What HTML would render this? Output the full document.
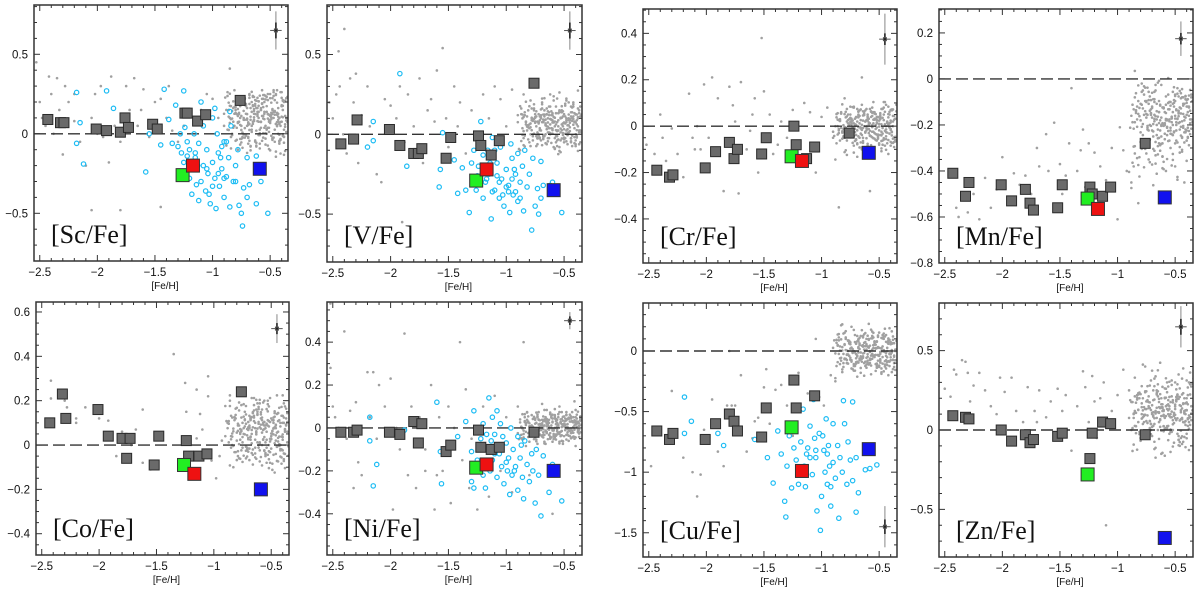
<!DOCTYPE html>
<html><head><meta charset="utf-8">
<style>
html,body{margin:0;padding:0;background:#fff;}
svg{display:block;}
text{font-family:"Liberation Sans",sans-serif;}
</style></head>
<body>
<svg id="fig" width="1200" height="591" viewBox="0 0 1200 591" xmlns="http://www.w3.org/2000/svg"></svg>
<script>
// ---- shared data ----
const gcFeH = [-2.43,-2.32,-2.29,-2.01,-1.92,-1.80,-1.76,-1.73,-1.52,-1.48,-1.24,-1.22,-1.13,-1.06,-0.76];
const specialFeH = [-1.26,-1.17,-0.59];
const specialColors = ['#22ee22','#ee1111','#1111ee'];
const xTicks = [-2.5,-2,-1.5,-1,-0.5];
const xTickLabels = ['\u22122.5','\u22122','\u22121.5','\u22121','\u22120.5'];

// GC values per element (null = not measured)
const scGC = [0.09,0.07,0.07,0.03,0.02,0.01,0.10,0.04,0.06,0.03,0.13,0.13,0.08,0.12,0.21];
const vGC  = [-0.06,-0.03,0.09,0.03,-0.07,-0.12,-0.12,-0.09,-0.15,-0.02,-0.01,-0.07,-0.13,-0.04,0.32];
const crGC = [-0.19,-0.22,-0.21,-0.18,-0.11,-0.07,-0.14,-0.10,-0.12,-0.05,0.0,-0.08,-0.14,-0.09,-0.03];
const mnGC = [-0.41,-0.51,-0.45,-0.46,-0.53,-0.48,-0.54,-0.57,-0.56,-0.46,-0.47,-0.50,-0.51,-0.47,-0.28];
const coGC = [0.10,0.23,0.12,0.16,0.04,0.03,-0.06,0.03,-0.09,0.04,0.02,-0.05,-0.05,-0.04,0.24];
const niGC = [-0.02,-0.02,-0.01,-0.02,-0.03,0.03,-0.07,0.02,-0.11,-0.08,-0.01,-0.09,-0.10,-0.09,-0.02];
const cuGC = [-0.66,-0.73,-0.68,-0.73,-0.60,-0.52,-0.58,-0.66,-0.71,-0.47,-0.24,-0.47,null,-0.37,null];
const znGC = [0.09,0.08,0.07,0.0,-0.07,-0.03,-0.08,-0.06,-0.04,-0.02,-0.18,-0.02,0.05,0.04,-0.03];

// special objects (green, red, blue)
const scSpec = [-0.26,-0.20,-0.22];
const vSpec  = [-0.29,-0.22,-0.35];
const crSpec = [-0.13,-0.15,-0.115];
const mnSpec = [-0.52,-0.565,-0.515];
const coSpec = [-0.09,-0.13,-0.20];
const niSpec = [-0.185,-0.17,-0.20];
const cuSpec = [-0.63,-0.99,-0.81];
const znSpec = [-0.28,null,-0.68];

// error-bar cross centre y per element
const errY = {sc:0.65,v:0.65,cr:0.375,mn:0.175,co:0.525,ni:0.50,cu:-1.45,zn:0.65};
const errHalf = {sc:[0.05,0.05,0.12],v:[0.05,0.05,0.12],cr:[0.05,0.025,0.11],mn:[0.05,0.025,0.075],co:[0.05,0.025,0.065],ni:[0.05,0.02,0.04],cu:[0.05,0.06,0.17],zn:[0.05,0.05,0.13]};

// dense disc cloud (shared [Fe/H] positions of field disc stars; y values per element)
const discX = [-0.88,-0.85,-0.83,-0.8,-0.78,-0.76,-0.74,-0.72,-0.7,-0.68,-0.66,-0.64,-0.62,-0.6,-0.58,-0.56,-0.54,-0.52,-0.5,-0.48,-0.46,-0.44,-0.42,-0.4,-0.38,-0.37,-0.86,-0.81,-0.77,-0.73,-0.69,-0.65,-0.61,-0.57,-0.53,-0.49,-0.45,-0.41,-0.39,-0.63,-0.55,-0.47,-0.43,-0.59,-0.51,-0.67,-0.71,-0.75,-0.79,-0.84,-0.36,-0.38,-0.42,-0.46,-0.5,-0.54,-0.58,-0.62,-0.66,-0.7];
const scDisc = [0.15,0.05,0.2,0.1,-0.02,0.18,0.08,0.22,0.0,0.12,0.25,0.05,0.15,-0.05,0.2,0.1,0.0,0.24,0.12,-0.08,0.18,0.05,0.22,-0.02,0.1,0.2,-0.05,0.12,0.25,-0.03,0.15,-0.08,0.2,0.05,0.15,0.1,0.0,0.15,-0.1,0.1,-0.02,0.22,-0.12,0.25,0.05,0.08,0.02,0.1,0.15,0.22,0.05,0.25,0.08,0.15,-0.05,0.12,0.1,0.18,-0.02,0.06];
const vDisc = [0.1,0.15,0.0,0.08,0.2,0.05,0.12,-0.05,0.1,0.18,0.02,0.08,-0.02,0.12,0.05,0.0,0.1,-0.08,0.05,0.15,-0.02,0.08,0.0,0.12,-0.05,0.05,0.2,0.1,-0.05,0.15,0.05,0.25,0.0,0.1,-0.1,0.02,0.08,-0.05,0.1,0.15,0.05,0.0,0.12,-0.03,0.06,0.1,0.0,0.12,0.08,0.02,-0.08,0.15,-0.02,0.1,0.2,-0.05,0.06,0.0,0.1,0.15];
const crDisc = [0.0,-0.05,0.05,-0.03,0.02,-0.1,0.0,0.04,-0.06,0.03,-0.02,0.05,-0.04,0.0,0.06,-0.08,0.02,-0.03,0.04,-0.05,0.0,0.05,-0.02,0.03,-0.06,0.0,-0.12,0.08,-0.08,0.06,-0.04,0.02,-0.07,0.04,0.0,-0.03,0.06,-0.05,0.02,0.03,-0.02,0.08,-0.06,0.05,-0.01,-0.05,0.02,0.05,-0.02,0.08,-0.03,0.04,0.01,-0.04,0.05,0.0,-0.06,0.07,0.02,-0.09];
const mnDisc = [-0.38,-0.34,-0.3,-0.35,-0.25,-0.22,-0.28,-0.18,-0.24,-0.2,-0.15,-0.22,-0.12,-0.18,-0.1,-0.15,-0.08,-0.2,-0.12,-0.05,-0.15,-0.1,-0.02,-0.14,-0.08,-0.12,-0.45,-0.32,-0.28,-0.3,-0.18,-0.25,-0.2,-0.12,-0.16,-0.08,-0.12,-0.18,-0.05,-0.14,-0.22,-0.2,-0.06,-0.1,-0.14,-0.28,-0.2,-0.36,-0.4,-0.27,-0.1,-0.2,-0.16,-0.04,-0.22,-0.08,-0.18,-0.12,-0.16,-0.24];
const coDisc = [0.2,0.12,0.05,0.15,0.08,0.18,0.0,0.1,0.2,0.05,0.14,-0.02,0.1,0.16,-0.05,0.08,0.0,0.12,-0.08,0.05,-0.02,0.1,-0.05,0.0,0.06,-0.04,0.1,0.02,0.12,0.06,0.0,0.15,0.08,-0.03,0.1,0.04,-0.1,0.02,-0.06,0.18,0.05,-0.06,0.08,0.12,-0.02,0.1,0.14,0.08,0.16,0.2,-0.08,0.0,0.04,0.1,-0.04,0.06,0.0,0.1,0.06,0.12];
const niDisc = [0.0,0.03,-0.02,0.05,-0.04,0.02,0.0,-0.03,0.04,-0.01,0.03,-0.05,0.02,0.0,0.05,-0.02,0.03,-0.04,0.01,0.04,-0.03,0.02,0.0,0.05,-0.02,0.03,0.05,-0.06,0.02,-0.02,0.06,-0.04,0.03,-0.01,0.04,-0.05,0.02,-0.02,0.06,0.0,-0.03,0.04,0.01,-0.02,0.05,0.02,-0.05,0.03,0.0,-0.03,0.1,-0.06,0.02,0.06,-0.01,0.03,-0.04,0.05,-0.02,0.01];
const cuDisc = [0.05,-0.1,0.0,-0.15,0.08,-0.05,0.1,-0.12,0.02,-0.08,0.12,-0.02,0.06,-0.1,0.15,-0.05,0.0,0.1,-0.08,0.05,-0.12,0.02,0.1,-0.06,0.0,-0.15,-0.2,0.12,-0.04,0.08,-0.1,0.04,-0.18,0.06,-0.02,0.14,-0.08,0.05,-0.1,-0.04,0.2,0.0,-0.06,0.08,-0.14,-0.02,0.04,-0.08,0.0,0.16,-0.05,0.08,-0.12,0.02,0.1,-0.04,0.06,-0.02,0.12,-0.1];
const znDisc = [0.1,0.2,0.05,0.15,0.25,0.0,0.12,0.3,0.08,0.18,-0.05,0.1,0.22,0.02,0.15,0.35,0.05,0.2,-0.08,0.12,0.0,0.18,0.1,-0.02,0.15,0.05,0.2,-0.1,0.3,0.08,0.15,-0.15,0.25,0.1,0.0,0.12,0.22,-0.05,0.08,0.4,0.18,0.28,0.02,-0.12,0.14,0.05,0.2,0.12,0.26,0.1,0.1,0.0,0.16,0.22,0.06,-0.04,0.12,0.2,0.3,0.08];

// scattered halo/thick-disc field stars: flat [x,y,...]
const scField = [-2.53,0.45,-2.5,0.2,-2.48,0.1,-2.45,0.05,-2.42,0.36,-2.4,0.25,-2.38,0.0,-2.35,0.35,-2.33,0.15,-2.3,-0.13,-2.28,0.3,-2.25,0.2,-2.2,0.08,-2.15,-0.05,-2.1,-0.2,-2.05,0.1,-2.02,0.25,-1.97,0.3,-1.95,-0.02,-1.9,-0.18,-1.88,0.36,-1.85,0.05,-1.8,-0.05,-1.75,0.3,-1.72,0.15,-1.68,0.35,-1.65,0.05,-1.6,0.28,-1.55,-0.02,-1.5,0.2,-1.45,0.22,-1.4,0.1,-1.35,0.02,-1.3,-0.05,-1.25,0.05,-1.2,0.12,-1.15,0.1,-1.1,0.15,-1.05,0.25,-1.0,0.22,-0.95,0.1,-0.9,0.05,-0.85,0.41,-1.8,-0.48,-1.45,-0.46,-2.05,-0.48,-2.2,0.25,-2.0,0.0,-1.62,0.15,-1.38,0.3];
const vField = [-2.53,0.2,-2.5,0.1,-2.47,0.25,-2.44,0.3,-2.41,0.0,-2.4,0.66,-2.38,-0.12,-2.35,0.35,-2.32,0.2,-2.28,-0.18,-2.25,0.12,-2.2,0.3,-2.18,0.05,-2.12,-0.25,-2.08,-0.3,-2.05,0.22,-2.0,0.18,-1.95,0.1,-1.92,0.3,-1.88,-0.05,-1.85,0.25,-1.8,0.05,-1.75,0.35,-1.72,-0.18,-1.68,0.15,-1.65,0.22,-1.6,0.4,-1.55,0.54,-1.52,0.1,-1.5,-0.08,-1.45,0.3,-1.42,0.05,-1.4,0.2,-1.35,-0.12,-1.3,0.15,-1.25,0.0,-1.2,0.25,-1.15,0.1,-1.1,0.3,-1.05,0.22,-1.0,0.05,-0.95,0.28,-0.9,0.12,-0.85,0.25,-2.45,0.52,-1.9,-0.55,-1.62,0.08,-2.3,0.38];
const crField = [-2.52,-0.08,-2.45,-0.12,-2.4,0.05,-2.38,-0.05,-2.35,-0.15,-2.3,-0.01,-2.25,-0.12,-2.2,-0.22,-2.15,0.14,-2.12,-0.05,-2.08,0.0,-2.05,-0.1,-2.02,0.18,-1.98,-0.05,-1.95,0.21,-1.9,0.12,-1.85,-0.28,-1.8,0.17,-1.77,0.09,-1.72,-0.29,-1.7,0.19,-1.65,-0.1,-1.62,-0.02,-1.58,0.12,-1.55,-0.2,-1.52,0.38,-1.5,0.15,-1.45,0.05,-1.42,-0.12,-1.38,-0.08,-1.35,0.02,-1.3,-0.05,-1.25,0.07,-1.2,-0.08,-1.15,0.1,-1.1,0.06,-1.05,-0.2,-1.0,0.04,-0.95,0.08,-0.9,-0.05,-0.85,-0.35,-0.8,0.12,-0.65,0.21,-0.58,-0.28,-1.75,0.02,-2.1,-0.1,-1.6,0.05];
const mnField = [-2.4,-0.56,-2.38,-0.6,-2.35,-0.5,-2.3,-0.58,-2.25,-0.5,-2.2,-0.61,-2.15,-0.43,-2.1,-0.56,-2.05,-0.48,-2.0,-0.34,-1.9,-0.41,-1.85,-0.46,-1.8,-0.42,-1.75,-0.5,-1.7,-0.3,-1.68,-0.38,-1.62,-0.24,-1.6,-0.4,-1.55,-0.19,-1.5,-0.37,-1.45,-0.42,-1.42,-0.28,-1.4,-0.04,-1.35,-0.4,-1.32,-0.31,-1.28,-0.47,-1.25,-0.28,-1.2,-0.32,-1.15,-0.38,-1.1,-0.44,-1.05,-0.3,-1.0,-0.61,-0.98,-0.21,-0.95,-0.31,-0.92,-0.4,-0.88,-0.45,-0.85,0.035,-0.82,-0.54,-0.5,-0.38,-1.48,-0.5,-1.18,-0.54,-1.3,-0.22];
const coField = [-2.42,0.29,-2.42,0.21,-2.35,0.22,-2.3,0.2,-2.28,0.17,-2.2,0.1,-2.2,0.12,-2.12,0.17,-2.0,0.12,-1.92,0.11,-1.85,-0.05,-1.8,0.06,-1.72,0.0,-1.68,0.07,-1.62,-0.08,-1.62,0.16,-1.55,-0.11,-1.35,0.41,-1.25,0.28,-1.24,0.15,-1.15,0.25,-1.12,0.14,-1.1,0.07,-1.05,0.31,-1.05,0.22,-1.02,-0.07,-0.98,-0.15,-0.95,-0.05,-0.93,0.02,-0.9,0.04,-1.15,0.03];
const niField = [-2.52,0.28,-2.5,0.1,-2.48,0.05,-2.45,0.0,-2.4,0.45,-2.38,-0.05,-2.35,0.08,-2.32,-0.28,-2.3,0.12,-2.28,-0.16,-2.2,0.26,-2.18,0.05,-2.15,0.26,-2.12,-0.05,-2.1,0.2,-2.05,0.1,-2.0,0.23,-1.98,-0.38,-1.95,0.0,-1.92,-0.1,-1.88,0.44,-1.85,-0.22,-1.82,0.1,-1.78,-0.28,-1.75,0.05,-1.7,-0.1,-1.65,0.2,-1.62,-0.38,-1.58,0.05,-1.55,-0.2,-1.5,0.1,-1.48,-0.35,-1.45,0.0,-1.4,0.4,-1.38,-0.15,-1.35,0.18,-1.32,-0.28,-1.3,-0.05,-1.25,-0.38,-1.2,0.1,-1.15,-0.32,-1.1,0.15,-1.05,-0.2,-1.0,0.05,-0.95,-0.3,-0.9,0.1,-0.85,0.4,-0.8,-0.22,-0.6,-0.4,-2.52,0.58,-2.25,-0.22,-1.7,-0.2,-1.6,-0.22];
const cuField = [-2.48,-0.95,-2.3,-0.33,-2.2,-0.88,-2.12,-1.0,-2.08,-1.2,-2.05,-1.02,-2.02,-0.65,-1.95,-0.4,-1.9,-0.83,-1.85,-0.95,-1.82,-0.45,-1.78,-0.45,-1.75,-0.45,-1.7,-0.2,-1.65,-0.83,-1.6,-0.72,-1.55,-0.55,-1.5,-0.3,-1.48,-0.15,-1.45,-0.6,-1.4,-0.32,-1.3,-0.45,-1.25,-0.7,-1.2,-0.18,-1.12,-0.35,-1.05,0.1,-1.02,-0.38,-0.98,-0.45,-0.92,-0.2,-0.88,-0.25,-0.82,0.22,-0.8,0.15,-0.78,-0.1,-1.8,0.0,-1.35,-0.28,-1.58,-0.58];
const znField = [-2.5,0.26,-2.45,0.21,-2.42,0.38,-2.4,0.35,-2.35,0.44,-2.32,0.43,-2.3,0.36,-2.28,0.18,-2.25,0.28,-2.2,0.36,-2.15,0.25,-2.1,0.15,-2.05,0.1,-2.02,0.33,-1.98,0.24,-1.92,0.33,-1.88,0.12,-1.82,0.05,-1.78,0.27,-1.72,0.12,-1.68,0.25,-1.62,0.08,-1.58,0.18,-1.52,0.26,-1.48,0.12,-1.45,0.22,-1.4,-0.13,-1.35,0.15,-1.3,0.37,-1.28,0.27,-1.25,0.05,-1.22,0.34,-1.2,0.18,-1.15,0.2,-1.12,0.3,-1.1,-0.6,-1.05,0.12,-1.0,0.22,-0.95,0.38,-0.9,0.25,-0.85,0.33,-0.82,0.05,-0.78,0.2,-1.55,-0.05,-1.18,-0.05,-1.7,0.05];

// cyan comparison sample (open circles): flat [x,y,...]
const scCyan = [-2.18,0.26,-2.18,-0.06,-2.12,-0.19,-2.15,0.07,-1.92,0.27,-1.86,0.16,-1.58,-0.24,-1.55,0.0,-1.45,-0.07,-1.42,0.28,-1.38,0.09,-1.35,-0.06,-1.32,0.18,-1.3,-0.08,-1.28,0.0,-1.27,-0.12,-1.25,0.27,-1.24,0.04,-1.22,-0.05,-1.2,-0.1,-1.2,-0.28,-1.18,-0.38,-1.16,0.0,-1.15,-0.15,-1.14,-0.32,-1.12,-0.06,-1.1,0.2,-1.1,-0.3,-1.08,-0.2,-1.06,-0.36,-1.05,-0.1,-1.04,-0.25,-1.02,-0.44,-1.0,0.1,-1.0,-0.18,-0.98,-0.28,-0.97,-0.47,-0.96,0.0,-0.95,-0.12,-0.94,-0.33,-0.92,-0.22,-0.9,-0.4,-0.9,-0.05,-0.88,-0.27,-0.86,-0.15,-0.85,-0.46,-0.84,0.05,-0.82,-0.3,-0.8,-0.2,-0.78,-0.1,-0.77,-0.45,-0.75,-0.5,-0.74,-0.58,-0.73,-0.34,-0.7,-0.4,-0.7,-0.15,-0.68,-0.32,-0.62,-0.14,-0.62,-0.44,-0.58,-0.3,-0.52,-0.5,-1.13,-0.2,-1.08,0.05,-1.03,-0.38,-0.93,-0.15,-1.17,-0.22,-0.85,0.14,-0.98,0.16,-0.88,-0.05,-1.25,-0.18,-1.12,-0.42,-1.0,-0.33,-1.15,-0.12,-1.05,-0.22,-0.95,-0.25,-0.92,-0.08,-1.22,-0.14,-0.8,-0.3,-0.9,-0.28];
const vCyan = [-2.2,-0.08,-2.15,-0.04,-2.15,0.08,-1.92,0.38,-1.86,-0.2,-1.58,-0.33,-1.57,-0.22,-1.55,0.01,-1.45,-0.16,-1.42,-0.37,-1.38,-0.21,-1.35,-0.35,-1.32,-0.49,-1.3,-0.18,-1.28,-0.1,-1.26,-0.35,-1.24,-0.2,-1.22,0.08,-1.2,-0.13,-1.2,-0.4,-1.18,-0.3,-1.16,-0.1,-1.15,-0.25,-1.13,-0.53,-1.12,-0.02,-1.1,-0.35,-1.08,-0.18,-1.06,-0.4,-1.05,-0.08,-1.04,-0.28,-1.02,-0.45,-1.0,-0.22,-0.98,-0.32,-0.97,-0.49,-0.96,-0.06,-0.95,-0.15,-0.94,-0.38,-0.92,-0.25,-0.9,-0.42,-0.9,-0.12,-0.88,-0.3,-0.86,-0.2,-0.85,-0.48,-0.84,-0.1,-0.82,-0.33,-0.8,-0.25,-0.78,-0.6,-0.77,-0.15,-0.75,-0.45,-0.73,-0.34,-0.72,-0.5,-0.7,-0.4,-0.7,-0.17,-0.68,-0.32,-0.62,-0.32,-0.6,-0.3,-0.52,-0.49,-1.14,-0.18,-1.08,-0.26,-1.03,-0.38,-0.93,-0.22,-1.17,-0.28,-0.88,-0.4,-0.98,-0.36,-1.25,-0.26,-1.12,-0.36,-1.0,-0.33,-0.95,-0.28,-1.1,-0.1,-1.06,-0.3,-0.92,-0.36];
const niCyan = [-2.18,0.05,-2.18,-0.06,-2.12,-0.17,-2.15,-0.27,-1.88,-0.01,-1.6,0.12,-1.57,-0.11,-1.56,-0.26,-1.5,-0.1,-1.42,-0.04,-1.35,0.03,-1.3,-0.11,-1.3,-0.25,-1.28,0.08,-1.28,-0.28,-1.25,-0.15,-1.22,-0.05,-1.2,0.02,-1.2,-0.22,-1.18,-0.28,-1.16,-0.1,-1.15,0.14,-1.14,-0.2,-1.12,0.05,-1.12,-0.15,-1.1,-0.03,-1.08,0.08,-1.08,-0.23,-1.06,-0.12,-1.05,0.02,-1.04,-0.18,-1.02,-0.26,-1.0,-0.07,-0.98,-0.14,-0.97,-0.31,-0.96,0.0,-0.95,-0.22,-0.94,-0.1,-0.92,-0.18,-0.9,-0.29,-0.9,-0.04,-0.88,-0.14,-0.86,-0.23,-0.85,-0.33,-0.84,-0.06,-0.82,-0.17,-0.8,-0.25,-0.78,-0.12,-0.77,-0.2,-0.75,-0.35,-0.74,-0.1,-0.72,-0.22,-0.7,-0.41,-0.68,-0.13,-0.63,-0.3,-0.6,-0.17,-0.52,-0.34,-1.13,-0.06,-1.07,-0.08,-1.03,-0.04,-0.93,-0.2,-1.17,-0.03,-0.99,-0.2,-0.87,-0.08,-1.23,-0.1,-1.1,-0.12,-1.0,-0.16];
const cuCyan = [-2.19,-0.38,-2.19,-0.68,-2.13,-0.58,-1.9,-0.68,-1.85,-0.78,-1.58,-0.73,-1.47,-0.88,-1.42,-1.09,-1.38,-0.66,-1.35,-0.85,-1.32,-1.24,-1.31,-1.37,-1.3,-0.95,-1.28,-0.7,-1.26,-1.13,-1.24,-0.8,-1.22,-0.9,-1.2,-1.1,-1.18,-0.75,-1.16,-0.48,-1.15,-0.95,-1.14,-1.12,-1.12,-0.8,-1.1,-0.62,-1.08,-1.02,-1.06,-0.72,-1.05,-0.88,-1.04,-1.32,-1.02,-0.68,-1.0,-1.2,-0.98,-0.82,-0.97,-1.0,-0.96,-0.56,-0.95,-1.1,-0.94,-0.78,-0.92,-1.28,-0.9,-0.92,-0.9,-0.6,-0.88,-1.05,-0.86,-0.78,-0.85,-1.38,-0.84,-0.88,-0.82,-1.0,-0.8,-0.6,-0.78,-1.1,-0.77,-0.75,-0.75,-0.9,-0.73,-1.07,-0.7,-0.88,-0.7,-1.33,-0.68,-1.17,-0.62,-0.98,-0.58,-0.97,-0.52,-0.94,-1.01,-1.48,-0.93,-0.95,-1.13,-0.85,-1.07,-0.4,-0.73,-0.42,-0.81,-0.41,-0.99,-0.7,-1.2,-0.98,-1.05,-0.82,-0.95,-0.85,-1.1,-0.88,-0.92,-1.12];

// panel geometry (pixels) and axis ranges
const panels = [
 {el:'sc',lab:'[Sc/Fe]',x0:34,x1:288,y0:5,y1:261,ymin:-0.8,ymax:0.81,maj:0.5,min:0.1,yt:[0.5,0,-0.5],ytl:['0.5','0','\u22120.5'],gc:scGC,sp:scSpec,fld:scField,disc:scDisc,cyan:scCyan},
 {el:'v',lab:'[V/Fe]',x0:327,x1:582,y0:5,y1:262,ymin:-0.8,ymax:0.81,maj:0.5,min:0.1,yt:[0.5,0,-0.5],ytl:['0.5','0','\u22120.5'],gc:vGC,sp:vSpec,fld:vField,disc:vDisc,cyan:vCyan},
 {el:'cr',lab:'[Cr/Fe]',x0:643,x1:897,y0:9,y1:263,ymin:-0.59,ymax:0.505,maj:0.2,min:0.05,yt:[0.4,0.2,0,-0.2,-0.4],ytl:['0.4','0.2','0','\u22120.2','\u22120.4'],gc:crGC,sp:crSpec,fld:crField,disc:crDisc,cyan:null},
 {el:'mn',lab:'[Mn/Fe]',x0:939,x1:1193,y0:9,y1:263,ymin:-0.8,ymax:0.304,maj:0.2,min:0.05,yt:[0.2,0,-0.2,-0.4,-0.6,-0.8],ytl:['0.2','0','\u22120.2','\u22120.4','\u22120.6','\u22120.8'],gc:mnGC,sp:mnSpec,fld:mnField,disc:mnDisc,cyan:null},
 {el:'co',lab:'[Co/Fe]',x0:36,x1:289,y0:302,y1:555,ymin:-0.496,ymax:0.645,maj:0.2,min:0.05,yt:[0.6,0.4,0.2,0,-0.2,-0.4],ytl:['0.6','0.4','0.2','0','\u22120.2','\u22120.4'],gc:coGC,sp:coSpec,fld:coField,disc:coDisc,cyan:null},
 {el:'ni',lab:'[Ni/Fe]',x0:327,x1:582,y0:302,y1:555,ymin:-0.592,ymax:0.587,maj:0.2,min:0.05,yt:[0.4,0.2,0,-0.2,-0.4],ytl:['0.4','0.2','0','\u22120.2','\u22120.4'],gc:niGC,sp:niSpec,fld:niField,disc:niDisc,cyan:niCyan},
 {el:'cu',lab:'[Cu/Fe]',x0:643,x1:897,y0:303,y1:557,ymin:-1.7,ymax:0.396,maj:0.5,min:0.1,yt:[0,-0.5,-1,-1.5],ytl:['0','\u22120.5','\u22121','\u22121.5'],gc:cuGC,sp:cuSpec,fld:cuField,disc:cuDisc,cyan:cuCyan},
 {el:'zn',lab:'[Zn/Fe]',x0:939,x1:1193,y0:303,y1:557,ymin:-0.8,ymax:0.8,maj:0.5,min:0.1,yt:[0.5,0,-0.5],ytl:['0.5','0','\u22120.5'],gc:znGC,sp:znSpec,fld:znField,disc:znDisc,cyan:null}
];
const XMIN=-2.55, XMAX=-0.345;
const NS='http://www.w3.org/2000/svg';
const svg=document.getElementById('fig');
function mk(tag,attrs,parent){const e=document.createElementNS(NS,tag);for(const k in attrs)e.setAttribute(k,attrs[k]);parent.appendChild(e);return e;}

panels.forEach(p=>{
  const sx=v=>p.x0+(v-XMIN)/(XMAX-XMIN)*(p.x1-p.x0);
  const sy=v=>p.y1-(v-p.ymin)/(p.ymax-p.ymin)*(p.y1-p.y0);
  const g=mk('g',{},svg);
  
  
  const clipId='clip-'+p.el;
  const cp=mk('clipPath',{id:clipId},g);
  mk('rect',{x:p.x0,y:p.y0,width:p.x1-p.x0,height:p.y1-p.y0},cp);
  const plot=mk('g',{'clip-path':'url(#'+clipId+')'},g);
  // field stars
  const fg=mk('g',{fill:'#a0a0a0'},plot);
  
  
  for(let i=0;i<p.fld.length;i+=2){
    const c=mk('circle',{cx:sx(p.fld[i]),cy:sy(p.fld[i+1]),r:1.3},fg);
    
    
  }
  for(let k=0;k<5;k++){ // disc cloud repeated with offsets for density
    for(let i=0;i<discX.length;i++){
      const j=(i+k*17)%discX.length;
      const c=mk('circle',{cx:sx(discX[i]+(k-2)*0.01),cy:sy(p.disc[j]+(k-2)*0.012),r:1.3},fg);
      
      
    }
  }
  // zero line
  const zl=mk('line',{x1:p.x0,x2:p.x1,y1:sy(0),y2:sy(0),stroke:'#333',"stroke-width":1.4,"stroke-dasharray":'12,5'},plot);
  
  
  // cyan sample
  if(p.cyan){
    const cg=mk('g',{fill:'none',stroke:'#1cbcf4',"stroke-width":1.2},plot);
    
    
    for(let i=0;i<p.cyan.length;i+=2){
      const c=mk('circle',{cx:sx(p.cyan[i]),cy:sy(p.cyan[i+1]),r:2.2},cg);
      
      
    }
  }
  // GC squares
  gcFeH.forEach((x,i)=>{
    const v=p.gc[i]; if(v===null)return;
    const s=10;
    const r=mk('rect',{x:sx(x)-s/2,y:sy(v)-s/2,width:s,height:s,fill:'#6a6a6a',stroke:'#2a2a2a',"stroke-width":1},plot);
    
    
  });
  specialFeH.forEach((x,i)=>{
    const v=p.sp[i]; if(v===null)return;
    const s=13;
    const r=mk('rect',{x:sx(x)-s/2,y:sy(v)-s/2,width:s,height:s,fill:specialColors[i],stroke:'#333',"stroke-width":1},plot);
    
    
  });
  // error cross
  const ex=-0.45, ey=errY[p.el], eh=errHalf[p.el];
  const eg=mk('g',{stroke:'#555',"stroke-width":1},g);
  
  
  mk('line',{x1:sx(ex-eh[0]),x2:sx(ex+eh[0]),y1:sy(ey),y2:sy(ey)},eg);
  mk('line',{x1:sx(ex),x2:sx(ex),y1:sy(ey+eh[2]),y2:sy(ey-eh[2]),stroke:'#888'},eg);
  mk('line',{x1:sx(ex),x2:sx(ex),y1:sy(ey+eh[1]),y2:sy(ey-eh[1]),stroke:'#222',"stroke-width":1.6},eg);
  mk('rect',{x:sx(ex)-1.5,y:sy(ey)-1.5,width:3,height:3,fill:'#222'},eg);
  // frame
  const fr=mk('rect',{x:p.x0,y:p.y0,width:p.x1-p.x0,height:p.y1-p.y0,fill:'none',stroke:'#333',"stroke-width":1.5},g);
  
  
  // ticks
  const tg=mk('g',{stroke:'#333',"stroke-width":1},g);
  for(let t=-2.5;t<=-0.35;t+=0.1){
    const tt=Math.round(t*10)/10; const isMaj=Math.abs(tt*2-Math.round(tt*2))<1e-6;
    const L=isMaj?6:3; const X=sx(tt);
    mk('line',{x1:X,x2:X,y1:p.y1,y2:p.y1-L},tg);
    mk('line',{x1:X,x2:X,y1:p.y0,y2:p.y0+L},tg);
  }
  const n0=Math.ceil(p.ymin/p.min-1e-6), n1=Math.floor(p.ymax/p.min+1e-6);
  for(let n=n0;n<=n1;n++){
    const v=n*p.min; const r=v/p.maj; const isMaj=Math.abs(r-Math.round(r))<1e-6;
    const L=isMaj?6:3; const Y=sy(v);
    mk('line',{x1:p.x0,x2:p.x0+L,y1:Y,y2:Y},tg);
    mk('line',{x1:p.x1,x2:p.x1-L,y1:Y,y2:Y},tg);
  }
  // tick labels
  xTicks.forEach((t,i)=>{
    const tx=mk('text',{x:sx(t),y:p.y1+15,"font-size":11.5,"text-anchor":'middle',fill:'#111'},g);
    tx.textContent=xTickLabels[i];
    
    
  });
  p.yt.forEach((t,i)=>{
    const ty=mk('text',{x:p.x0-6,y:sy(t)+4,"font-size":11.5,"text-anchor":'end',fill:'#111'},g);
    ty.textContent=p.ytl[i];
    
    
  });
  const xl=mk('text',{x:sx(-1.5)+10,y:p.y1+28,"font-size":10,"text-anchor":'middle',fill:'#111'},g);
  xl.textContent='[Fe/H]';
  
  
  const lb=mk('text',{x:p.x0+17,y:p.y1-18,"font-size":26,fill:'#111',style:'font-family:"Liberation Serif",serif'},g);
  lb.textContent=p.lab;
  
  
});
</script>
</body></html>
